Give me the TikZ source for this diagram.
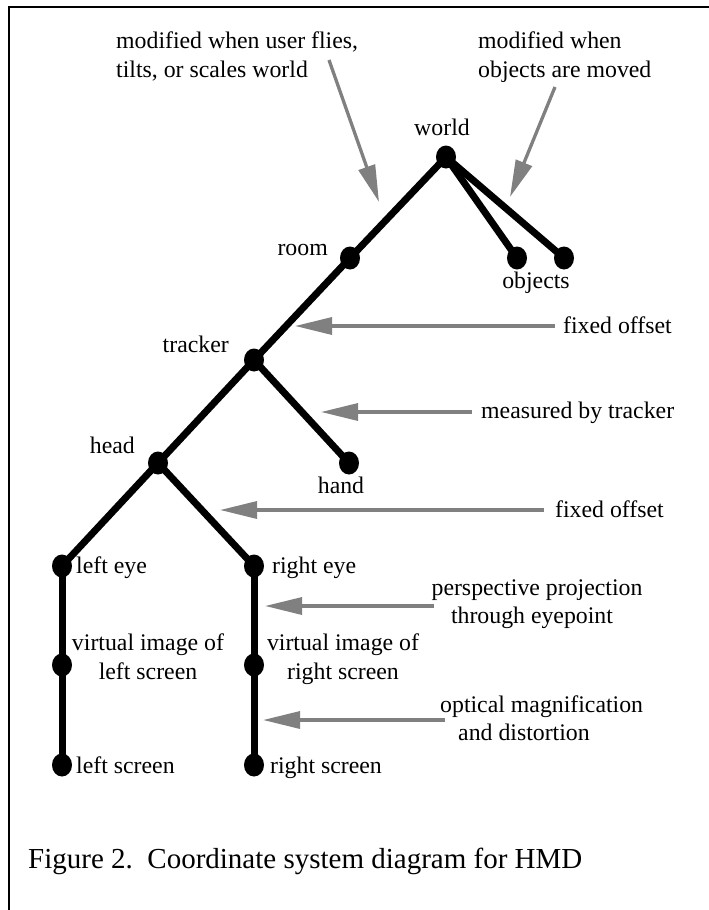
\documentclass[tikz,border=0pt]{standalone}
\usepackage{fontspec}
\setmainfont{Liberation Serif}
\usetikzlibrary{arrows.meta,backgrounds,shapes.geometric}
\definecolor{arrowgray}{HTML}{808080}
\tikzset{
  dot/.style={ellipse,fill=black,minimum width=20pt,minimum height=23pt,inner sep=0pt},
  edge/.style={line width=7pt,black},
  lbl/.style={inner sep=0pt,font=\fontsize{23.8}{28.5}\selectfont},
  captext/.style={inner sep=0pt,font=\fontsize{29}{34}\selectfont},
  note/.style={arrowgray,line width=3.3pt,-{Triangle[length=37pt,width=17pt]}},
  frame/.style={line width=2pt,black}
}
\begin{document}
\begin{tikzpicture}[x=1pt,y=-1pt]
\useasboundingbox (0,0) rectangle (709,910);
% frame
\draw[frame] (9,910) -- (9,7) -- (709,7);
% dots
\node[dot] (world) at (446,157) {};
\node[dot] (room) at (350,258) {};
\node[dot] (obj1) at (517,258) {};
\node[dot] (obj2) at (564,258) {};
\node[dot] (tracker) at (254,360) {};
\node[dot] (head) at (158,463) {};
\node[dot] (hand) at (349,463) {};
\node[dot] (leye) at (62,566) {};
\node[dot] (reye) at (254,566) {};
\node[dot] (lvirt) at (62,665) {};
\node[dot] (rvirt) at (254,665) {};
\node[dot] (lscr) at (62,765) {};
\node[dot] (rscr) at (254,765) {};
% edges
\begin{scope}[on background layer]
\draw[edge] (world.center) -- (room.center);
\draw[edge] (world.center) -- (obj1.center);
\draw[edge] (world.center) -- (obj2.center);
\draw[edge] (room.center) -- (tracker.center);
\draw[edge] (tracker.center) -- (head.center);
\draw[edge] (tracker.center) -- (hand.center);
\draw[edge] (head.center) -- (leye.center);
\draw[edge] (head.center) -- (reye.center);
\draw[edge] (leye.center) -- (lvirt.center);
\draw[edge] (lvirt.center) -- (lscr.center);
\draw[edge] (reye.center) -- (rvirt.center);
\draw[edge] (rvirt.center) -- (rscr.center);
\end{scope}
% node labels
\node[lbl,anchor=base] (tworld) at (442,135) {world};
\node[lbl,anchor=base east] (troom) at (328,255) {room};
\node[lbl,anchor=base] (tobj) at (536,288) {objects};
\node[lbl,anchor=base east] (ttracker) at (229,352) {tracker};
\node[lbl,anchor=base east] (thead) at (135,453) {head};
\node[lbl,anchor=base] (thand) at (341,493) {hand};
\node[lbl,anchor=base west] (tleye) at (76,573) {left eye};
\node[lbl,anchor=base west] (treye) at (272,573) {right eye};
\node[lbl,anchor=base] (tlvirtA) at (148,650) {virtual image of};
\node[lbl,anchor=base] (tlvirtB) at (148,679) {left screen};
\node[lbl,anchor=base] (trvirtA) at (343,650) {virtual image of};
\node[lbl,anchor=base] (trvirtB) at (343,679) {right screen};
\node[lbl,anchor=base west] (tlscr) at (76,773) {left screen};
\node[lbl,anchor=base west] (trscr) at (270,773) {right screen};
% annotations
\node[lbl,anchor=base west] (n1a) at (116,48) {modified when user flies,};
\node[lbl,anchor=base west] (n1b) at (116,77) {tilts, or scales world};
\node[lbl,anchor=base west] (n2a) at (478,48) {modified when};
\node[lbl,anchor=base west] (n2b) at (478,77) {objects are moved};
\node[lbl,anchor=base west] (n3) at (563,333) {fixed offset};
\node[lbl,anchor=base west] (n4) at (481,418) {measured by tracker};
\node[lbl,anchor=base west] (n5) at (555,517) {fixed offset};
\node[lbl,anchor=base] (n6a) at (537,595) {perspective projection};
\node[lbl,anchor=base] (n6b) at (532,623) {through eyepoint};
\node[lbl,anchor=base west] (n7a) at (440,712) {optical magnification};
\node[lbl,anchor=base west] (n7b) at (458,740) {and distortion};
% arrow endpoints
\coordinate (s1) at (329,60);  \coordinate (e1) at (379,202);
\coordinate (s2) at (555,87);  \coordinate (e2) at (510,197);
\coordinate (s3) at (555,326); \coordinate (e3) at (295,326);
\coordinate (s4) at (472,412); \coordinate (e4) at (321,412);
\coordinate (s5) at (544,510); \coordinate (e5) at (220,510);
\coordinate (s6) at (434,606); \coordinate (e6) at (265,606);
\coordinate (s7) at (445,720); \coordinate (e7) at (263,720);
\draw[note] (s1) -- (e1);
\draw[note] (s2) -- (e2);
\draw[note] (s3) -- (e3);
\draw[note] (s4) -- (e4);
\draw[note] (s5) -- (e5);
\draw[note] (s6) -- (e6);
\draw[note] (s7) -- (e7);
% caption
\node[captext,anchor=base west] (caption) at (28,868) {Figure 2.\ \ Coordinate system diagram for HMD};
\end{tikzpicture}
\end{document}
